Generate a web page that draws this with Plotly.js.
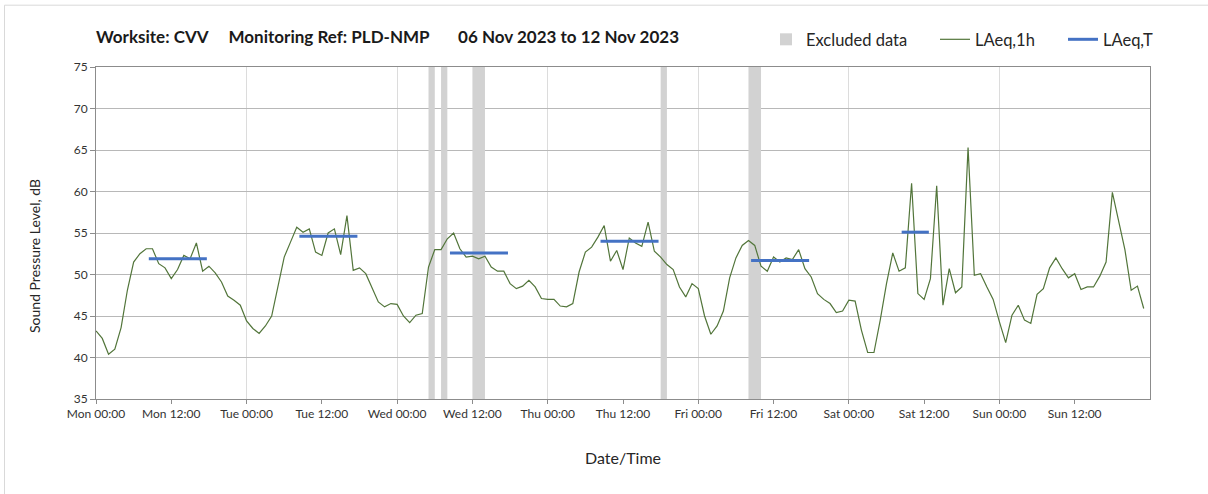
<!DOCTYPE html>
<html><head><meta charset="utf-8">
<script src="https://cdn.plot.ly/plotly-3.0.1.min.js"></script>
<style>body{margin:0;background:#fff}#chart{width:1208px;height:494px}</style>
</head><body><div id="chart"></div>
<script>
// ---- data ----
const weekStart = '2023-11-06';
const dayNames = ['Mon', 'Tue', 'Wed', 'Thu', 'Fri', 'Sat', 'Sun'];

// hourly LAeq,1h (00:00 .. 23:00 each day)
const monLevels = [43.2, 42.3, 40.4, 41.0, 43.6, 48.1, 51.5, 52.5, 53.1, 53.1, 51.3, 50.8,
                   49.5, 50.6, 52.3, 51.9, 53.8, 50.4, 51.0, 50.2, 49.1, 47.4, 46.9, 46.3];
const tueLevels = [44.4, 43.5, 42.9, 43.8, 45.0, 48.5, 52.1, 53.9, 55.7, 55.1, 55.5, 52.7,
                   52.3, 55.0, 55.5, 52.4, 57.1, 50.5, 50.8, 50.1, 48.3, 46.7, 46.1, 46.5];
const wedLevels = [46.4, 45.0, 44.2, 45.1, 45.3, 50.9, 53.0, 53.0, 54.3, 55.0, 53.1, 52.1,
                   52.2, 51.9, 52.2, 50.9, 50.4, 50.4, 48.9, 48.3, 48.6, 49.3, 48.5, 47.1];
const thuLevels = [47.0, 47.0, 46.2, 46.1, 46.5, 50.3, 52.7, 53.3, 54.5, 55.9, 51.6, 52.9,
                   50.6, 54.4, 53.8, 53.4, 56.3, 52.8, 52.1, 51.2, 50.6, 48.5, 47.3, 48.9];
const friLevels = [48.3, 45.0, 42.8, 43.8, 45.6, 49.6, 52.0, 53.5, 54.1, 53.5, 51.0, 50.4,
                   52.1, 51.5, 52.0, 51.8, 53.0, 50.7, 49.7, 47.7, 47.0, 46.5, 45.4, 45.6];
const satLevels = [46.9, 46.8, 43.3, 40.6, 40.6, 44.5, 48.9, 52.6, 50.4, 50.8, 61.0, 47.7,
                   47.0, 49.5, 60.7, 46.3, 50.7, 47.8, 48.5, 65.3, 49.9, 50.1, 48.5, 47.0];
const sunLevels = [44.3, 41.8, 45.1, 46.3, 44.5, 44.1, 47.6, 48.3, 50.8, 52.0, 50.7, 49.6,
                   50.1, 48.2, 48.5, 48.5, 49.8, 51.5, 59.9, 56.4, 53.0, 48.1, 48.6, 45.9];

// LAeq,T periods
const periodStart = ['2023-11-06 08:25', '2023-11-07 08:25', '2023-11-08 08:25',
                     '2023-11-09 08:25', '2023-11-10 08:25', '2023-11-11 08:25'];
const periodEnd   = ['2023-11-06 17:40', '2023-11-07 17:40', '2023-11-08 17:40',
                     '2023-11-09 17:40', '2023-11-10 17:40', '2023-11-11 12:45'];
const periodLevel = [51.9, 54.6, 52.6, 54.0, 51.7, 55.1];

// excluded data windows
const excludedStart = ['2023-11-08 05:00', '2023-11-08 07:00', '2023-11-08 12:00',
                       '2023-11-09 18:00', '2023-11-10 08:00'];
const excludedEnd   = ['2023-11-08 06:00', '2023-11-08 08:00', '2023-11-08 14:00',
                       '2023-11-09 19:00', '2023-11-10 10:00'];

const tickLabels = ['Mon 00:00', 'Mon 12:00', 'Tue 00:00', 'Tue 12:00', 'Wed 00:00', 'Wed 12:00',
                    'Thu 00:00', 'Thu 12:00', 'Fri 00:00', 'Fri 12:00', 'Sat 00:00', 'Sat 12:00',
                    'Sun 00:00', 'Sun 12:00'];

// ---- build ----
const HOUR = 3600000;
const toMs = s => Date.parse(s.replace(' ', 'T') + ':00Z');
const pad = n => String(n).padStart(2, '0');
const toStr = ms => { const d = new Date(ms);
  return d.getUTCFullYear() + '-' + pad(d.getUTCMonth() + 1) + '-' + pad(d.getUTCDate()) + ' ' +
         pad(d.getUTCHours()) + ':' + pad(d.getUTCMinutes()); };
const t0 = toMs(weekStart + ' 00:00');

const allDays = [monLevels, tueLevels, wedLevels, thuLevels, friLevels, satLevels, sunLevels];
const hx = [], hy = [];
allDays.forEach((arr, d) => arr.forEach((v, h) => { hx.push(toStr(t0 + (d * 24 + h) * HOUR)); hy.push(v); }));

const px = [], py = [];
periodStart.forEach((s, i) => { px.push(s, periodEnd[i], null); py.push(periodLevel[i], periodLevel[i], null); });

const ex = excludedStart.map((s, i) => toStr((toMs(s) + toMs(excludedEnd[i])) / 2));
const ew = excludedStart.map((s, i) => toMs(excludedEnd[i]) - toMs(s));

const tickVals = tickLabels.map((_, i) => toStr(t0 + i * 12 * HOUR));

const FONT = 'Lato, "Open Sans", sans-serif';
const traces = [
  { type: 'bar', name: 'Excluded data', x: ex, y: ex.map(() => 40), base: 35, width: ew,
    marker: { color: '#d2d2d2', line: { width: 0 } }, hoverinfo: 'skip', legend: 'legend' },
  { type: 'scatter', mode: 'lines', name: 'LAeq,1h', x: hx, y: hy,
    line: { color: '#52753a', width: 1.2 }, legend: 'legend2' },
  { type: 'scatter', mode: 'lines', name: 'LAeq,T', x: px, y: py, connectgaps: false,
    line: { color: '#4472c4', width: 3 }, legend: 'legend3' }
];

const PW = 1054, PH = 333, PL = 96, PT = 66.5;
const legY = 1 + (PT - 39) / PH;
const legBase = { orientation: 'h', xanchor: 'left', yanchor: 'middle', y: legY,
  font: { family: FONT, size: 16.5, color: '#262626' }, bgcolor: 'rgba(0,0,0,0)', borderwidth: 0 };

const layout = {
  width: 1208, height: 494,
  margin: { l: 96, r: 58, t: 67, b: 94.5 },
  paper_bgcolor: '#fff', plot_bgcolor: '#fff',
  font: { family: FONT, color: '#262626' },
  barmode: 'overlay',
  title: { text: '<b>Worksite: CVV&nbsp;&nbsp;&nbsp;&nbsp; Monitoring Ref: PLD-NMP&nbsp;&nbsp;&nbsp;&nbsp;&nbsp;&nbsp; 06 Nov 2023 to 12 Nov 2023</b>',
           font: { family: FONT, size: 17, color: '#1a1a1a' },
           x: 96 / 1208, xanchor: 'left', xref: 'container', y: 1 - 37 / 494, yanchor: 'middle' },
  showlegend: true,
  legend:  Object.assign({}, legBase, { x: (766 - PL) / PW }),
  legend2: Object.assign({}, legBase, { x: (935 - PL) / PW }),
  legend3: Object.assign({}, legBase, { x: (1063 - PL) / PW }),
  xaxis: {
    type: 'date', range: [toStr(t0), toStr(t0 + 7 * 24 * HOUR)],
    tickmode: 'array', tickvals: tickVals, ticktext: tickLabels,
    tickfont: { family: FONT, size: 12, color: '#333' },
    ticks: 'outside', ticklen: 4, tickcolor: '#8c8c8c',
    showgrid: false,
    minor: { tickmode: 'array', tickvals: dayNames.map((_, i) => toStr(t0 + i * 24 * HOUR)),
             showgrid: true, gridcolor: '#dcdcdc', gridwidth: 1, ticks: '' },
    showline: true, linecolor: '#8c8c8c', linewidth: 1, mirror: true,
    zeroline: false,
    title: { text: 'Date/Time', font: { family: FONT, size: 16, color: '#262626' }, standoff: 32 }
  },
  yaxis: {
    range: [35, 75], dtick: 5, tick0: 35,
    tickfont: { family: FONT, size: 12, color: '#333' },
    ticks: 'outside', ticklen: 5, tickcolor: '#8c8c8c',
    showgrid: true, gridcolor: '#b8b8b8', gridwidth: 1,
    showline: true, linecolor: '#8c8c8c', linewidth: 1, mirror: true,
    zeroline: false
  },
  annotations: [
    { text: 'Sound Pressure Level, dB', textangle: -90, showarrow: false,
      xref: 'paper', yref: 'paper', x: (35 - PL) / PW, y: 1 - (256 - PT) / PH,
      xanchor: 'center', yanchor: 'middle', font: { family: FONT, size: 14, color: '#262626' } }
  ],
  shapes: [
    { type: 'rect', xref: 'paper', yref: 'paper',
      x0: (4.5 - PL) / PW, x1: (1230 - PL) / PW, y0: -(520 - 399.5) / PH, y1: 1 + (PT - 4.5) / PH,
      line: { color: '#d9d9d9', width: 1 }, fillcolor: 'rgba(0,0,0,0)', layer: 'below' }
  ]
};

Plotly.newPlot('chart', traces, layout, { displayModeBar: false, staticPlot: true });
</script>
</body></html>
